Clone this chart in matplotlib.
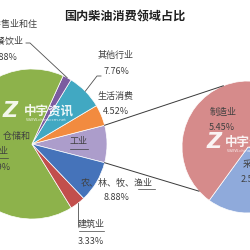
import numpy as np
import matplotlib
matplotlib.use('Agg')
import matplotlib.pyplot as plt

plt.rcParams['font.family'] = ['Noto Sans CJK SC', 'DejaVu Sans']

# datos del grafico (porcentajes)
sub_names = ['采矿业', '制造业']
sub_vals = [2.59, 5.45]
main_names = ['工业', '生活消费', '其他行业', '批发零售业和住宿餐饮业',
              '交通运输、仓储和邮政业', '建筑业', '农、林、牧、渔业']
main_vals = [sum(sub_vals), 4.52, 7.76, 1.88, 65.59, 3.33, 8.88]
main_colors = ['#AC9DCB', '#F28B3F', '#41A8C2', '#7B5CA0', '#8DB24B', '#C24F4C', '#4573BA']
sub_colors = ['#8FAADB', '#D68B8B']
title = '国内柴油消费领域占比'

H = 250  # alto en pixeles, y se mide desde arriba
fig = plt.figure(figsize=(2.5, 2.5), dpi=100)
ax = fig.add_axes([0, 0, 1, 1])

c1 = np.array([32, H - 144]); r1 = 75
c2 = np.array([248, H - 147]); r2 = 66
start1 = -main_vals[0] / 2 * 3.6
wp = dict(linewidth=0.5, edgecolor='white')
ax.pie(main_vals, colors=main_colors, center=c1, radius=r1,
       startangle=start1, counterclock=True, wedgeprops=wp)
ax.pie(sub_vals, colors=sub_colors, center=c2, radius=r2,
       startangle=234, counterclock=True, wedgeprops=wp)

def polar(c, r, ang):
    a = np.radians(ang)
    return c + r * np.array([np.cos(a), np.sin(a)])

# angulo medio de cada sector
edges = start1 + np.concatenate([[0], np.cumsum(main_vals)]) * 3.6
mids = (edges[:-1] + edges[1:]) / 2

# lineas de union entre los dos pasteles
for a1, a2 in [(edges[1], 112), (edges[0], 222)]:
    p, q = polar(c1, r1, a1), polar(c2, r2, a2)
    ax.plot([p[0], q[0]], [p[1], q[1]], color='#3a3a3a', lw=0.7)

def T(x, y, s, **kw):
    opts = dict(ha='center', va='center', fontsize=6.5, color='#404040')
    opts.update(kw)
    ax.text(x, H - y, s, **opts)

def lead(pts, end):
    xs = [p[0] for p in pts] + [end[0]]
    ys = [H - p[1] for p in pts] + [end[1]]
    ax.plot(xs, ys, color='#505050', lw=0.6)

def uline(x0, x1, y):
    ax.plot([x0, x1], [H - y, H - y], color='#404040', lw=0.5)

pct = lambda v: f'{v:.2f}%'

T(125, 17, title, fontsize=8.7, fontweight='bold', color='#202020')

# etiquetas del pastel principal
T(6, 25, '批发零售业和住'); T(6, 41, '宿餐饮业'); T(4, 57, pct(main_vals[3]))
lead([(26, 43), (30, 43)], polar(c1, r1, mids[3]))
T(-5, 136, '交通运输、仓储和'); T(-5, 151, '邮政业'); T(-5, 167, pct(main_vals[4]))
uline(-18, 8, 158)
T(116, 55, main_names[2]); T(116, 72, pct(main_vals[2]))
lead([(101, 76), (97, 76)], polar(c1, r1, mids[2]))
T(116, 97, main_names[1]); T(116, 112, pct(main_vals[1]))
T(79, 142, main_names[0]); uline(70, 88, 149)
T(117, 183, main_names[6]); T(117, 198, pct(main_vals[6]))
uline(138, 155, 189)
T(91, 224, main_names[5]); T(91, 242, pct(main_vals[5])); uline(79, 104, 231)
pb = polar(c1, r1, mids[5])
ax.plot([pb[0], pb[0]], [pb[1], H - 226], color='#505050', lw=0.6)

# pastel secundario
T(223, 112, sub_names[1]); T(222, 127, pct(sub_vals[1]))
T(256, 165, sub_names[0]); T(254, 180, pct(sub_vals[0]))

# marca de agua
for zx, tx, ty in [(10, 24, 111), (214, 225, 142)]:
    T(zx, ty, 'Z', fontsize=15, fontweight='heavy', color='white', alpha=0.9,
      family='DejaVu Sans', style='italic')
    T(tx, ty, '中宇资讯', ha='left', fontsize=9, fontweight='bold', color='white', alpha=0.9)
    T(tx + 2, ty + 9, 'WWW.chinaccm.net', ha='left', fontsize=3, color='white',
      alpha=0.8, family='DejaVu Sans')

ax.set_xlim(0, 250)
ax.set_ylim(0, 250)
ax.set_aspect('equal')
ax.axis('off')

fig.savefig('out.png', dpi=100)
